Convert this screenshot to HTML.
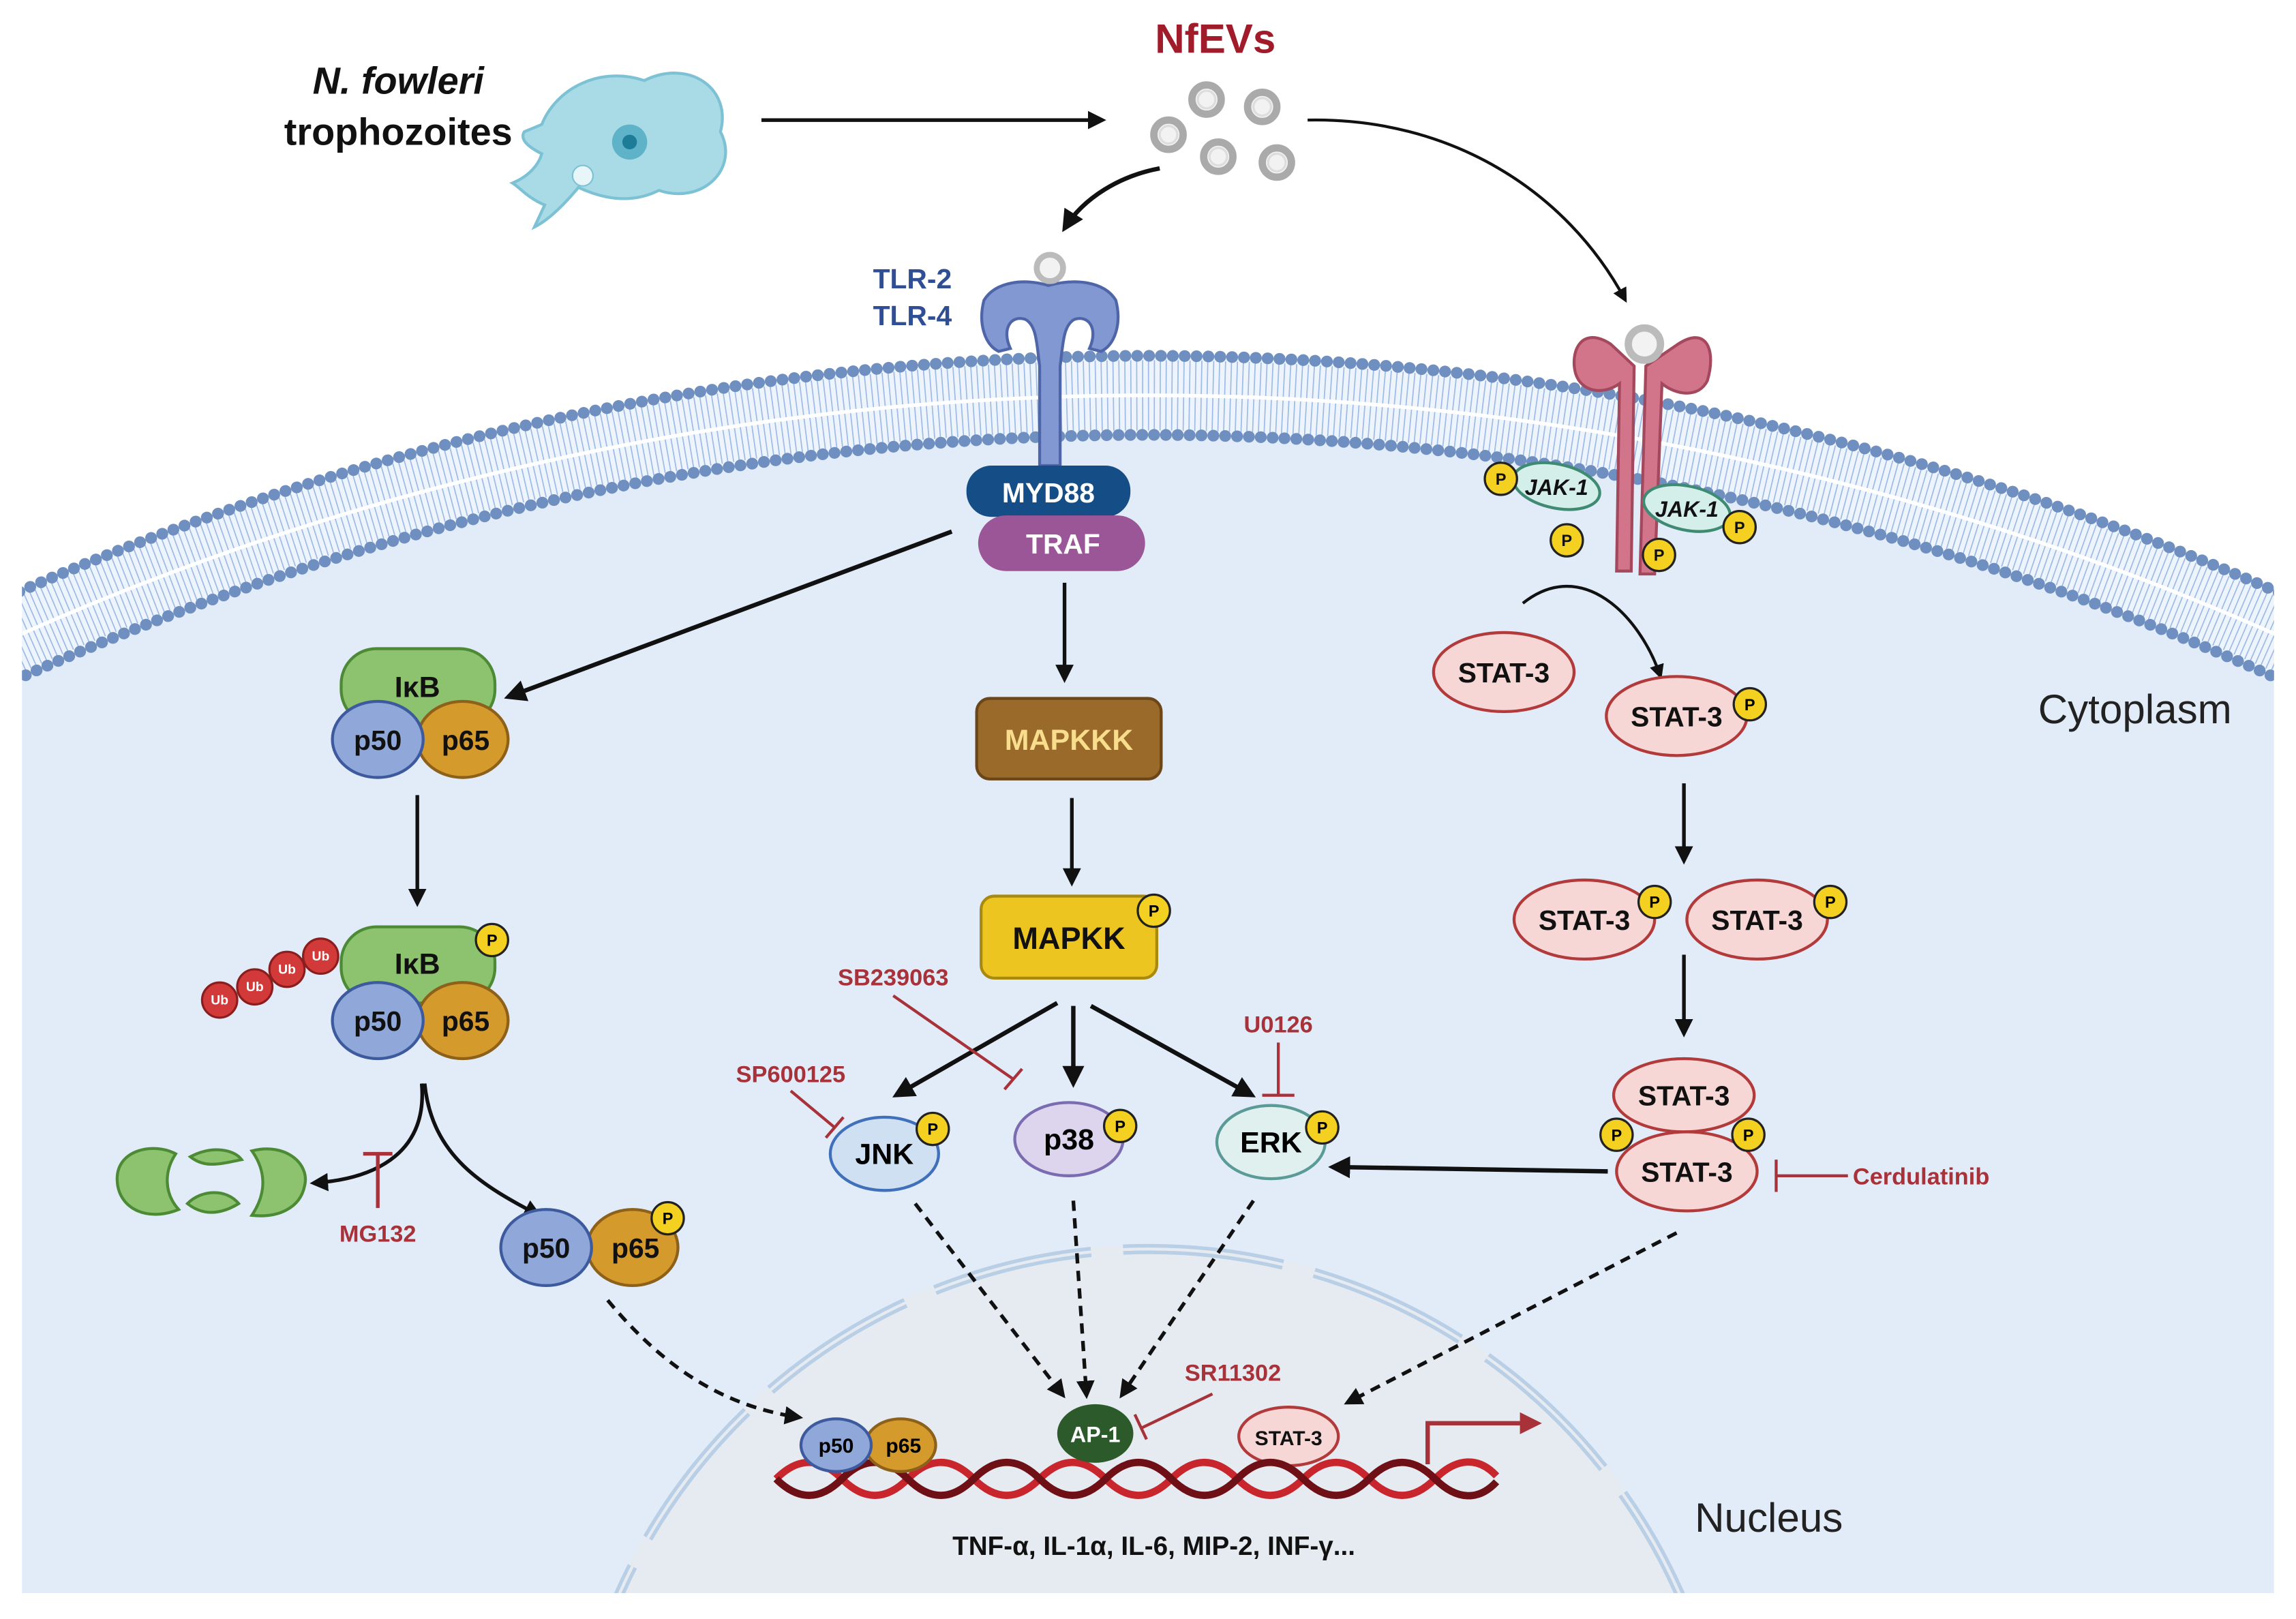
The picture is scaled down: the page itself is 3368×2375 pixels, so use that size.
<!DOCTYPE html>
<html><head><meta charset="utf-8"><style>html,body{margin:0;padding:0;background:#fff;width:3368px;height:2375px;overflow:hidden}svg{display:block}text{font-family:"Liberation Sans",sans-serif;font-weight:bold}</style></head><body>
<svg width="3368" height="2375" viewBox="0 0 1568 1105.7" preserveAspectRatio="none" xmlns="http://www.w3.org/2000/svg">
<defs>
<clipPath id="cr"><rect x="15" y="0" width="1538" height="1088"/></clipPath>
<marker id="ar" viewBox="0 0 10 10" refX="8" refY="5" markerWidth="5" markerHeight="5" orient="auto-start-reverse"><path d="M0,0 L10,5 L0,10 Z" fill="#111"/></marker>
<marker id="arr" viewBox="0 0 10 10" refX="8" refY="5" markerWidth="5" markerHeight="5" orient="auto"><path d="M0,0 L10,5 L0,10 Z" fill="#a8323a"/></marker>
</defs>
<g clip-path="url(#cr)">
<circle cx="784" cy="2168" r="1898" fill="#e2ecf8"/>
<circle cx="784" cy="2168" r="1898" fill="none" stroke="#eef4fb" stroke-width="56"/>
<circle cx="784" cy="2168" r="1898" fill="none" stroke="#9dbbe6" stroke-width="48" stroke-dasharray="0.8 3.2"/>
<circle cx="784" cy="2168" r="1898" fill="none" stroke="#fff" stroke-width="2.5"/>
<circle cx="784" cy="2168" r="1925" fill="none" stroke="#6e8fc0" stroke-width="8" stroke-dasharray="0.1 8" stroke-linecap="round"/>
<circle cx="784" cy="2168" r="1871" fill="none" stroke="#6e8fc0" stroke-width="8" stroke-dasharray="0.1 8" stroke-linecap="round"/>
<circle cx="785" cy="1249" r="399" fill="#e6ebf1"/>
<circle cx="785" cy="1249" r="396" fill="none" stroke="#b9cfe6" stroke-width="7" stroke-dasharray="110 22"/>
<circle cx="785" cy="1249" r="396" fill="none" stroke="#e6ebf1" stroke-width="2" stroke-dasharray="110 22"/>
</g>
<text x="272" y="64" font-size="26" text-anchor="middle" font-style="italic" fill="#111">N. fowleri</text>
<text x="272" y="99" font-size="26" text-anchor="middle" fill="#111">trophozoites</text>
<path d="M370,85 C380,60 410,45 440,55 C470,40 500,60 492,90 C505,115 480,140 450,130 C430,140 410,135 395,128 C385,140 375,150 365,155 L372,140 C360,135 355,128 350,125 C362,120 368,112 370,105 C360,100 355,95 358,90 Z" fill="#a9dbe6" stroke="#7cc2d4" stroke-width="2"/>
<circle cx="430" cy="97" r="12" fill="#5eb3c9"/><circle cx="430" cy="97" r="5" fill="#1d7d99"/>
<circle cx="398" cy="120" r="7" fill="#e8f6f9" stroke="#7cc2d4"/>
<line x1="520" y1="82" x2="753" y2="82" stroke="#111" stroke-width="2.5" marker-end="url(#ar)"/>
<text x="830" y="36" font-size="28" text-anchor="middle" fill="#a01c2a">NfEVs</text>
<g fill="#f2f2f2" stroke="#aaa" stroke-width="5"><circle cx="824" cy="68" r="10"/><circle cx="862" cy="73" r="10"/><circle cx="798" cy="92" r="10"/><circle cx="832" cy="107" r="10"/><circle cx="872" cy="111" r="10"/></g>
<g fill="none" stroke="#ddd" stroke-width="1.5"><circle cx="824" cy="68" r="6"/><circle cx="862" cy="73" r="6"/><circle cx="798" cy="92" r="6"/><circle cx="832" cy="107" r="6"/><circle cx="872" cy="111" r="6"/></g>
<path d="M792,115 C765,120 740,135 727,156" fill="none" stroke="#111" stroke-width="3" marker-end="url(#ar)"/>
<path d="M893,82 C990,80 1070,130 1110,205" fill="none" stroke="#111" stroke-width="2" marker-end="url(#ar)"/>
<text x="650" y="197" font-size="19" text-anchor="end" fill="#2f4e94">TLR-2</text>
<text x="650" y="222" font-size="19" text-anchor="end" fill="#2f4e94">TLR-4</text>
<path d="M716,195 C700,190 680,192 672,205 C668,220 672,235 682,240 L690,238 C684,225 690,215 700,218 C708,222 708,235 710,250 L710,318 L724,318 L724,250 C726,235 726,222 734,218 C744,215 750,225 744,238 L752,240 C762,235 766,220 762,205 C754,192 734,190 716,195Z" fill="#8298d3" stroke="#4e66a8" stroke-width="2"/>
<circle cx="717" cy="183" r="9" fill="#f2f2f2" stroke="#bbb" stroke-width="4"/>
<rect x="660" y="318" width="112" height="35" rx="17" fill="#154e87"/>
<text x="716" y="343" font-size="19" text-anchor="middle" fill="#fff">MYD88</text>
<rect x="668" y="352" width="114" height="38" rx="19" fill="#9b5698"/>
<text x="726" y="378" font-size="19" text-anchor="middle" fill="#fff">TRAF</text>
<path d="M1100,235 C1080,222 1072,240 1076,255 C1080,268 1095,270 1106,262 L1104,390 L1114,390 L1116,250 Z" fill="#d2758a" stroke="#a3485d" stroke-width="2"/>
<path d="M1146,235 C1166,222 1172,240 1166,260 C1160,272 1145,270 1135,262 L1130,392 L1120,392 L1124,250 Z" fill="#d2758a" stroke="#a3485d" stroke-width="2"/>
<circle cx="1123" cy="235" r="11" fill="#f2f2f2" stroke="#bbb" stroke-width="5"/>
<ellipse cx="1063" cy="332" rx="30" ry="15" fill="#d4efe9" stroke="#3f8a72" stroke-width="2" transform="rotate(12 1063 332)"/>
<text x="1063" y="338" font-size="15" text-anchor="middle" fill="#111" font-style="italic">JAK-1</text>
<ellipse cx="1152" cy="347" rx="30" ry="15" fill="#d4efe9" stroke="#3f8a72" stroke-width="2" transform="rotate(12 1152 347)"/>
<text x="1152" y="353" font-size="15" text-anchor="middle" fill="#111" font-style="italic">JAK-1</text>
<g fill="#f4d020" stroke="#222" stroke-width="1.5">
<circle cx="1025" cy="327" r="11"/><circle cx="1070" cy="369" r="11"/><circle cx="1133" cy="379" r="11"/><circle cx="1188" cy="360" r="11"/></g>
<g font-size="11" fill="#111" text-anchor="middle"><text x="1025" y="331">P</text><text x="1070" y="373">P</text><text x="1133" y="383">P</text><text x="1188" y="364">P</text></g>
<path d="M1040,412 C1080,380 1120,420 1134,462" fill="none" stroke="#111" stroke-width="2" marker-end="url(#ar)"/>
<line x1="650" y1="363" x2="347" y2="476" stroke="#111" stroke-width="3" marker-end="url(#ar)"/>
<line x1="727" y1="398" x2="727" y2="464" stroke="#111" stroke-width="2.5" marker-end="url(#ar)"/>
<g>
<rect x="233" y="443" width="105" height="52" rx="24" fill="#8dc26f" stroke="#4d8a35" stroke-width="2"/>
<text x="285" y="476" font-size="20" text-anchor="middle" fill="#111">IκB</text>
<ellipse cx="316" cy="505" rx="31" ry="26" fill="#d49b2c" stroke="#8d611a" stroke-width="2"/>
<ellipse cx="258" cy="505" rx="31" ry="26" fill="#8fa7d9" stroke="#3e5a9e" stroke-width="2"/>
<text x="258" y="512" font-size="19" text-anchor="middle" fill="#111">p50</text>
<text x="318" y="512" font-size="19" text-anchor="middle" fill="#111">p65</text>
</g>
<line x1="285" y1="543" x2="285" y2="617" stroke="#111" stroke-width="2.5" marker-end="url(#ar)"/>
<g>
<rect x="233" y="633" width="105" height="52" rx="24" fill="#8dc26f" stroke="#4d8a35" stroke-width="2"/>
<text x="285" y="665" font-size="20" text-anchor="middle" fill="#111">IκB</text>
<ellipse cx="316" cy="697" rx="31" ry="26" fill="#d49b2c" stroke="#8d611a" stroke-width="2"/>
<ellipse cx="258" cy="697" rx="31" ry="26" fill="#8fa7d9" stroke="#3e5a9e" stroke-width="2"/>
<text x="258" y="704" font-size="19" text-anchor="middle" fill="#111">p50</text>
<text x="318" y="704" font-size="19" text-anchor="middle" fill="#111">p65</text>
<circle cx="336" cy="642" r="11" fill="#f4d020" stroke="#222" stroke-width="1.5"/><text x="336" y="646" font-size="11" text-anchor="middle">P</text>
</g>
<g fill="#d23a3a" stroke="#8a1d1d" stroke-width="1.5"><circle cx="150" cy="683" r="12"/><circle cx="174" cy="674" r="12"/><circle cx="196" cy="662" r="12"/><circle cx="219" cy="653" r="12"/></g>
<g font-size="9" fill="#fff" text-anchor="middle"><text x="150" y="686">Ub</text><text x="174" y="677">Ub</text><text x="196" y="665">Ub</text><text x="219" y="656">Ub</text></g>
<g fill="#8dc26f" stroke="#4d8a35" stroke-width="2">
<path d="M80,805 C80,785 105,780 120,788 C112,800 112,815 122,826 C100,835 80,825 80,805Z"/>
<path d="M130,790 C145,782 160,785 165,792 C150,795 140,798 130,790Z"/>
<path d="M128,822 C138,812 155,812 163,822 C150,830 138,830 128,822Z"/>
<path d="M172,786 C195,780 212,795 208,810 C205,825 190,832 172,830 C182,815 182,800 172,786Z"/>
</g>
<path d="M288,740 C292,785 260,805 214,808" fill="none" stroke="#111" stroke-width="2.5" marker-end="url(#ar)"/>
<path d="M290,740 C295,790 330,810 368,830" fill="none" stroke="#111" stroke-width="2.5" marker-end="url(#ar)"/>
<g stroke="#a8323a" stroke-width="2.5"><line x1="258" y1="788" x2="258" y2="825"/><line x1="248" y1="788" x2="268" y2="788"/></g>
<text x="258" y="848" font-size="16" text-anchor="middle" fill="#a8323a">MG132</text>
<ellipse cx="432" cy="852" rx="31" ry="26" fill="#d49b2c" stroke="#8d611a" stroke-width="2"/>
<ellipse cx="373" cy="852" rx="31" ry="26" fill="#8fa7d9" stroke="#3e5a9e" stroke-width="2"/>
<text x="373" y="859" font-size="19" text-anchor="middle" fill="#111">p50</text>
<text x="434" y="859" font-size="19" text-anchor="middle" fill="#111">p65</text>
<circle cx="456" cy="832" r="11" fill="#f4d020" stroke="#222" stroke-width="1.5"/><text x="456" y="836" font-size="11" text-anchor="middle">P</text>
<path d="M415,888 C450,930 490,960 546,968" fill="none" stroke="#111" stroke-width="2.5" stroke-dasharray="7 5" marker-end="url(#ar)"/>
<rect x="667" y="477" width="126" height="55" rx="9" fill="#9a6a2a" stroke="#6b4619" stroke-width="2"/>
<text x="730" y="512" font-size="20" text-anchor="middle" fill="#f7dd8c">MAPKKK</text>
<line x1="732" y1="545" x2="732" y2="603" stroke="#111" stroke-width="2.5" marker-end="url(#ar)"/>
<rect x="670" y="612" width="120" height="56" rx="9" fill="#ecc521" stroke="#a98a10" stroke-width="2"/>
<text x="730" y="648" font-size="21" text-anchor="middle" fill="#111">MAPKK</text>
<circle cx="788" cy="622" r="11" fill="#f4d020" stroke="#222" stroke-width="1.5"/><text x="788" y="626" font-size="11" text-anchor="middle">P</text>
<g stroke="#111" stroke-width="3" fill="none">
<line x1="722" y1="685" x2="612" y2="748" marker-end="url(#ar)"/>
<line x1="733" y1="687" x2="733" y2="740" marker-end="url(#ar)"/>
<line x1="745" y1="687" x2="855" y2="748" marker-end="url(#ar)"/>
</g>
<g stroke="#a8323a" stroke-width="2" fill="none">
<line x1="610" y1="680" x2="692" y2="737"/><line x1="686" y1="744" x2="698" y2="730"/>
<line x1="540" y1="745" x2="570" y2="770"/><line x1="564" y1="777" x2="576" y2="763"/>
<line x1="873" y1="712" x2="873" y2="748"/><line x1="862" y1="748" x2="884" y2="748"/>
<line x1="1262" y1="803" x2="1213" y2="803"/><line x1="1213" y1="792" x2="1213" y2="814"/>
<line x1="828" y1="952" x2="780" y2="975"/><line x1="775" y1="966" x2="783" y2="983"/>
</g>
<g font-size="16" fill="#a8323a" text-anchor="middle">
<text x="610" y="673">SB239063</text><text x="540" y="739">SP600125</text><text x="873" y="705">U0126</text>
<text x="1312" y="809">Cerdulatinib</text><text x="842" y="943">SR11302</text></g>
<ellipse cx="604" cy="788" rx="37" ry="25" fill="#cfe0f2" stroke="#3f70b9" stroke-width="2"/>
<text x="604" y="795" font-size="20" text-anchor="middle">JNK</text>
<ellipse cx="730" cy="778" rx="37" ry="25" fill="#ddd5ee" stroke="#7b6bb0" stroke-width="2"/>
<text x="730" y="785" font-size="20" text-anchor="middle">p38</text>
<ellipse cx="868" cy="780" rx="37" ry="25" fill="#dff0ee" stroke="#5a9a97" stroke-width="2"/>
<text x="868" y="787" font-size="20" text-anchor="middle">ERK</text>
<g fill="#f4d020" stroke="#222" stroke-width="1.5"><circle cx="637" cy="771" r="11"/><circle cx="765" cy="769" r="11"/><circle cx="903" cy="770" r="11"/></g>
<g font-size="11" text-anchor="middle"><text x="637" y="775">P</text><text x="765" y="773">P</text><text x="903" y="774">P</text></g>
<g stroke="#111" stroke-width="2.5" stroke-dasharray="7 5" fill="none">
<line x1="625" y1="822" x2="726" y2="953" marker-end="url(#ar)"/>
<line x1="733" y1="820" x2="742" y2="953" marker-end="url(#ar)"/>
<line x1="856" y1="820" x2="766" y2="953" marker-end="url(#ar)"/>
<line x1="1145" y1="842" x2="920" y2="958" marker-end="url(#ar)"/>
</g>
<g fill="#f7d6d6" stroke="#b23a3a" stroke-width="2">
<ellipse cx="1027" cy="459" rx="48" ry="27"/><ellipse cx="1145" cy="489" rx="48" ry="27"/>
<ellipse cx="1082" cy="628" rx="48" ry="27"/><ellipse cx="1200" cy="628" rx="48" ry="27"/>
<ellipse cx="1150" cy="748" rx="48" ry="25"/><ellipse cx="1152" cy="800" rx="48" ry="27"/>
<ellipse cx="880" cy="981" rx="34" ry="20"/>
</g>
<g font-size="19" text-anchor="middle" fill="#111">
<text x="1027" y="466">STAT-3</text><text x="1145" y="496">STAT-3</text>
<text x="1082" y="635">STAT-3</text><text x="1200" y="635">STAT-3</text>
<text x="1150" y="755">STAT-3</text><text x="1152" y="807">STAT-3</text>
<text x="880" y="987" font-size="14">STAT-3</text></g>
<g fill="#f4d020" stroke="#222" stroke-width="1.5"><circle cx="1195" cy="481" r="11"/><circle cx="1130" cy="616" r="11"/><circle cx="1250" cy="616" r="11"/><circle cx="1104" cy="775" r="11"/><circle cx="1194" cy="775" r="11"/></g>
<g font-size="11" text-anchor="middle"><text x="1195" y="485">P</text><text x="1130" y="620">P</text><text x="1250" y="620">P</text><text x="1104" y="779">P</text><text x="1194" y="779">P</text></g>
<g stroke="#111" stroke-width="2.5" fill="none">
<line x1="1150" y1="535" x2="1150" y2="588" marker-end="url(#ar)"/>
<line x1="1150" y1="652" x2="1150" y2="706" marker-end="url(#ar)"/>
<line x1="1098" y1="800" x2="910" y2="797" stroke-width="3" marker-end="url(#ar)"/>
</g>
<text x="1458" y="494" font-size="28" text-anchor="middle" style="font-weight:normal" fill="#222">Cytoplasm</text>
<text x="1208" y="1046" font-size="28" text-anchor="middle" style="font-weight:normal" fill="#222">Nucleus</text>
<g fill="none" stroke-width="5">
<path d="M530,1010 C545,995 560,995 575,1010 S605,1025 620,1010 S650,995 665,1010 S695,1025 710,1010 S740,995 755,1010 S785,1025 800,1010 S830,995 845,1010 S875,1025 890,1010 S920,995 935,1010 S965,1025 980,1010 S1010,995 1022,1008" stroke="#c8252d"/>
<path d="M530,1010 C545,1025 560,1025 575,1010 S605,995 620,1010 S650,1025 665,1010 S695,995 710,1010 S740,1025 755,1010 S785,995 800,1010 S830,1025 845,1010 S875,995 890,1010 S920,1025 935,1010 S965,995 980,1010 S1010,1025 1022,1012" stroke="#6e1016"/>
</g>
<path d="M975,1000 L975,972 L1050,972" fill="none" stroke="#a8323a" stroke-width="3" marker-end="url(#arr)"/>
<ellipse cx="615" cy="987" rx="24" ry="18" fill="#d49b2c" stroke="#8d611a" stroke-width="2"/>
<ellipse cx="571" cy="987" rx="24" ry="18" fill="#8fa7d9" stroke="#3e5a9e" stroke-width="2"/>
<text x="571" y="992" font-size="14" text-anchor="middle">p50</text><text x="617" y="992" font-size="14" text-anchor="middle">p65</text>
<ellipse cx="748" cy="979" rx="26" ry="20" fill="#2c5a2a"/>
<text x="748" y="985" font-size="15" text-anchor="middle" fill="#fff">AP-1</text>
<text x="788" y="1062" font-size="18" text-anchor="middle" fill="#111">TNF-α, IL-1α, IL-6, MIP-2, INF-γ...</text>
</svg>
</body></html>
